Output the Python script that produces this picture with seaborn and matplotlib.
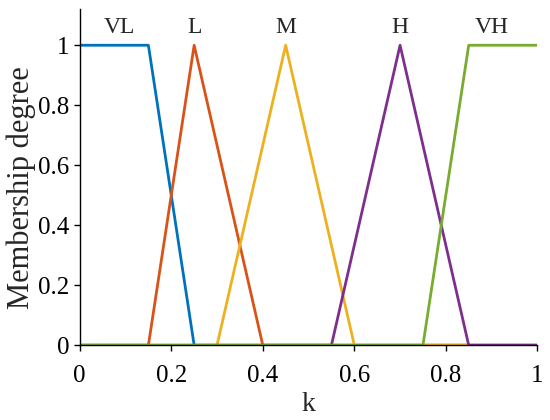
import pandas as pd
import numpy as np
import matplotlib
matplotlib.use("Agg")
import matplotlib.pyplot as plt
import seaborn as sns

# membership function breakpoints (k, degree) for each term
labels = ["VL", "L", "M", "H", "VH"]
vl_x = [0, 0.15, 0.25, 1]
vl_y = [1, 1, 0, 0]
l_x = [0, 0.15, 0.25, 0.4, 1]
l_y = [0, 0, 1, 0, 0]
m_x = [0, 0.3, 0.45, 0.6, 1]
m_y = [0, 0, 1, 0, 0]
h_x = [0, 0.55, 0.7, 0.85, 1]
h_y = [0, 0, 1, 0, 0]
vh_x = [0, 0.75, 0.85, 1]
vh_y = [0, 0, 1, 1]
label_x = [0.087, 0.25, 0.45, 0.70, 0.90]
label_y = 1.06

colors = ["#0072BD", "#D95319", "#EDB120", "#7E2F8E", "#77AC30"]

xs = [vl_x, l_x, m_x, h_x, vh_x]
ys = [vl_y, l_y, m_y, h_y, vh_y]
frames = []
for name, x, y in zip(labels, xs, ys):
    frames.append(pd.DataFrame({"k": x, "mu": y, "term": name}))
df = pd.concat(frames, ignore_index=True)

sns.set_style("ticks")
plt.rcParams['font.family'] = ['Liberation Serif', 'DejaVu Serif']

f, ax = plt.subplots(figsize=(5.5, 4.2), dpi=100)
sns.lineplot(data=df, x="k", y="mu", hue="term", palette=colors,
             sort=False, estimator=None, legend=False, linewidth=2.0, ax=ax)

for name, lx in zip(labels, label_x):
    ax.text(lx, label_y, name, ha="center", va="center", fontsize=17)

ax.set_xlim(0, 1)
ax.set_ylim(0, 1.12)
ax.set_xticks([0, 0.2, 0.4, 0.6, 0.8, 1])
ax.set_xticklabels(["0", "0.2", "0.4", "0.6", "0.8", "1"])
ax.set_yticks([0, 0.2, 0.4, 0.6, 0.8, 1])
ax.set_yticklabels(["0", "0.2", "0.4", "0.6", "0.8", "1"])
ax.tick_params(labelsize=18, direction="out", length=4, width=1, colors="black")
ax.tick_params(axis="x", pad=10)
ax.set_xlabel("k", fontsize=20, labelpad=4)
ax.set_ylabel("Membership degree", fontsize=22)
ax.yaxis.set_label_coords(-0.095, 0.47)
for s in ["left", "bottom"]:
    ax.spines[s].set_color("black")
    ax.spines[s].set_linewidth(1)
sns.despine(ax=ax)

f.subplots_adjust(left=0.145, right=0.977, top=0.978, bottom=0.178)
f.savefig("out.png", dpi=100)
